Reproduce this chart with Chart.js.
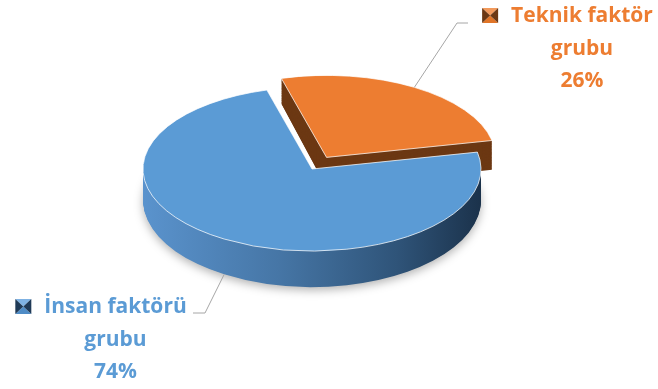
<!DOCTYPE html>
<html>
<head>
<meta charset="utf-8">
<script src="https://cdn.jsdelivr.net/npm/chart.js@4"></script>
<style>
  body { margin: 0; background: #fff; }
  #wrap { width: 658px; height: 389px; position: relative; }
</style>
</head>
<body>
<div id="wrap"><canvas id="pie-chart"></canvas></div>
<script>
// Data
const categories = ['Teknik faktör grubu', 'İnsan faktörü grubu'];
const values = [26, 74];

// Colours
const topColors = ['#ed7d31', '#5b9bd5'];
const textColors = ['#ed7d31', '#5b9bd5'];

// 3D look
const TOP_Y = 169;      // screen y of pie centre (top face)
const K_TOP = 0.485;    // vertical squash of top face
const K_GROW = 0.03;    // bottom ellipse a little rounder (perspective)
const DROP = 31;        // thickness of the pie
const LAYERS = 40;

// label layout
const labelSpots = [
  { cx: 582, y: 22, elbow: [[457, 23], [468, 23]] },
  { cx: 115.5, y: 313, elbow: [[205, 313], [193, 313]] }
];

function layerTransform(ctx, cx, cy, t) {
  ctx.translate(cx, TOP_Y + t * DROP);
  ctx.scale(1, K_TOP + t * K_GROW);
  ctx.translate(-cx, -cy);
}

function sideFill(ctx, i, arc) {
  if (i === 0) return '#6c3813';
  const g = ctx.createLinearGradient(arc.x - arc.outerRadius, 0, arc.x + arc.outerRadius, 0);
  g.addColorStop(0, '#5a93cd');
  g.addColorStop(0.4, '#4676a6');
  g.addColorStop(0.75, '#2f5479');
  g.addColorStop(1, '#1b324b');
  return g;
}

const pie3d = {
  id: 'pie3d',
  beforeDatasetsDraw(chart) {
    const ctx = chart.ctx;
    const arcs = chart.getDatasetMeta(0).data;
    arcs.forEach((arc, i) => {
      const o = arc.options;
      const keep = { bg: o.backgroundColor, bw: o.borderWidth };
      for (let s = LAYERS; s >= 0; s--) {
        const t = s / LAYERS;
        ctx.save();
        if (s === LAYERS && i === 1) {
          ctx.shadowColor = 'rgba(0,0,0,0.3)';
          ctx.shadowBlur = 10;
          ctx.shadowOffsetY = 3;
        }
        layerTransform(ctx, arc.x, arc.y, t);
        if (s > 0) {
          o.backgroundColor = sideFill(ctx, i, arc);
          o.borderWidth = 0;
        } else {
          o.backgroundColor = keep.bg;
          o.borderWidth = keep.bw;
        }
        arc.draw(ctx);
        ctx.restore();
      }
      o.backgroundColor = keep.bg;
      o.borderWidth = keep.bw;
    });
    return false;
  },
  afterDraw(chart) {
    const ctx = chart.ctx;
    const arcs = chart.getDatasetMeta(0).data;
    arcs.forEach((arc, i) => {
      const spot = labelSpots[i];
      const mid = (arc.startAngle + arc.endAngle) / 2;
      const push = (arc.options.offset || 0) / 4;
      const r = arc.outerRadius + push;
      // leader line from slice edge
      const t = i === 1 ? 1 : 0;
      const px = arc.x + Math.cos(mid) * r;
      const py = TOP_Y + t * DROP + Math.sin(mid) * r * (K_TOP + t * K_GROW);
      ctx.save();
      ctx.strokeStyle = '#a6a6a6';
      ctx.lineWidth = 1;
      ctx.beginPath();
      ctx.moveTo(px, py);
      ctx.lineTo(spot.elbow[0][0], spot.elbow[0][1]);
      ctx.lineTo(spot.elbow[1][0], spot.elbow[1][1]);
      ctx.stroke();

      // text
      const words = categories[i].split(' ');
      const line2 = words.pop();
      const line1 = words.join(' ');
      ctx.font = 'bold 21px "Open Sans", sans-serif';
      ctx.fillStyle = textColors[i];
      ctx.textAlign = 'center';
      ctx.textBaseline = 'alphabetic';
      ctx.fillText(line1, spot.cx, spot.y);
      ctx.fillText(line2, spot.cx, spot.y + 33);
      ctx.fillText(values[i] + '%', spot.cx, spot.y + 65);

      // legend key (bevelled square)
      const w1 = ctx.measureText(line1).width;
      const kx = spot.cx - w1 / 2 - 29, ky = spot.y - 14, kw = 16, kh = 15;
      drawKey(ctx, kx, ky, kw, kh, i);
      ctx.restore();
    });
  }
};

function drawKey(ctx, x, y, w, h, i) {
  const mx = x + w / 2, my = y + h / 2;
  const shades = i === 0
    ? { top: '#f29a5c', bottom: '#e07528', side: '#6c3813' }
    : { top: '#7fb2e3', bottom: '#4f8cc6', side: '#1f3a57' };
  const tri = (a, b, c) => {
    ctx.beginPath();
    ctx.moveTo(a[0], a[1]); ctx.lineTo(b[0], b[1]); ctx.lineTo(c[0], c[1]);
    ctx.closePath(); ctx.fill();
  };
  ctx.fillStyle = shades.top;    tri([x, y], [x + w, y], [mx, my]);
  ctx.fillStyle = shades.bottom; tri([x, y + h], [x + w, y + h], [mx, my]);
  ctx.fillStyle = shades.side;   tri([x, y], [x, y + h], [mx, my]);
  tri([x + w, y], [x + w, y + h], [mx, my]);
}

new Chart(document.getElementById('pie-chart'), {
  type: 'pie',
  data: {
    labels: categories,
    datasets: [{
      data: values,
      backgroundColor: topColors,
      borderColor: '#ffffff',
      borderWidth: 1,
      offset: [112, 0],
      hoverOffset: 0,
      radius: 169
    }]
  },
  options: {
    responsive: true,
    maintainAspectRatio: false,
    animation: false,
    events: [],
    rotation: -15.5,
    layout: { padding: { right: 34 } },
    plugins: {
      legend: { display: false },
      tooltip: { enabled: false }
    }
  },
  plugins: [pie3d]
});
</script>
</body>
</html>
